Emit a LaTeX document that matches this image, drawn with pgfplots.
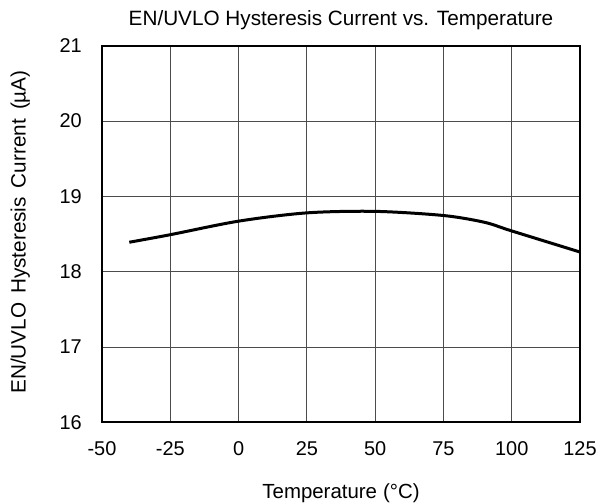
\documentclass[border=0pt]{standalone}
\usepackage{fontspec}
\setmainfont{Liberation Sans}
\usepackage{pgfplots}
\pgfplotsset{compat=1.18}
\begin{document}
\fontsize{20}{24}\selectfont
\begin{tikzpicture}
\useasboundingbox (-102bp,-81.8bp) rectangle (498bp,422.2bp);
\begin{axis}[
  scale only axis,
  width=478bp, height=376.5bp,
  xmin=-50, xmax=125, ymin=16, ymax=21,
  xtick={-50,-25,0,25,50,75,100,125},
  ytick={16,17,18,19,20,21},
  /pgf/number format/assume math mode=true,
  major tick length=0pt,
  grid=major,
  major grid style={line width=0.8bp, black!70},
  axis line style={line width=2bp, black},
  tick label style={font=\fontsize{20}{24}\selectfont},
  xticklabel style={anchor=base, yshift=-33bp, inner sep=0pt},
  yticklabel style={anchor=east, xshift=-20bp, inner sep=0pt},
  title={EN/UVLO Hysteresis Current vs. Temperature},
  title style={at={(0.5,1.039)}, anchor=base, inner sep=0pt, font=\fontsize{20.8}{24}\selectfont},
  xlabel={Temperature\hspace{6bp}(°C)},
  xlabel style={at={(0.5,-0.2019)}, anchor=base, inner sep=0pt, font=\fontsize{20.5}{24}\selectfont},
  ylabel={EN/UVLO\hspace{9bp}Hysteresis\hspace{9bp}Current\hspace{9bp}(µA)},
  ylabel style={at={(-0.1596,0.505)}, anchor=base, rotate=0, inner sep=0pt, font=\fontsize{20.8}{24}\selectfont},
]
\addplot[black, line width=3bp, smooth, line cap=butt] coordinates {
(-40,18.39) (-25,18.49) (0,18.67) (25,18.78) (50,18.80) (75,18.745) (90,18.655) (100,18.54) (125,18.26)
};
\end{axis}
\end{tikzpicture}
\end{document}
